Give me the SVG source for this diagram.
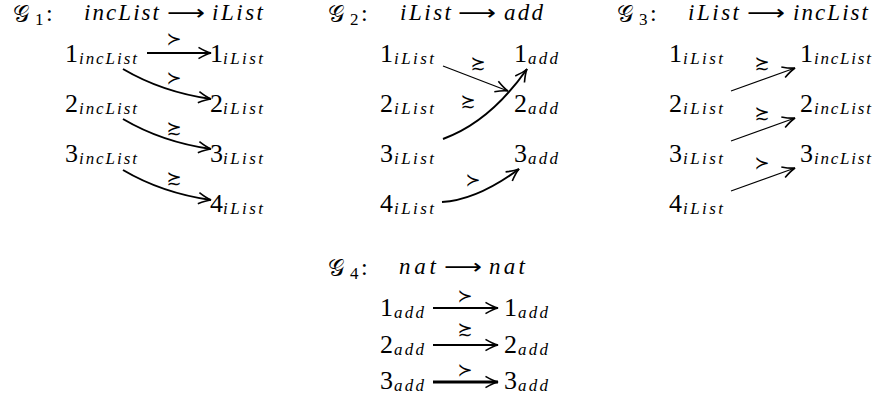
<svg xmlns="http://www.w3.org/2000/svg" width="876" height="401" viewBox="0 0 876 401">
<style>
.t{font-family:"Liberation Serif",serif;font-style:italic;font-size:23px;fill:#000}
.a{font-family:"DejaVu Sans",sans-serif;font-size:21px;fill:#000}
.g{font-family:"DejaVu Sans",sans-serif;font-size:23px;fill:#000}
.gs{font-family:"Liberation Serif",serif;font-size:17px}
.gc{font-family:"Liberation Serif",serif;font-size:24px}
.n{font-family:"Liberation Serif",serif;font-size:26px;fill:#000}
.s{font-family:"Liberation Serif",serif;font-style:italic;font-size:17px}
.r{font-family:"DejaVu Sans",sans-serif;font-size:18px;text-anchor:middle;fill:#000}
.e{fill:none;stroke:#000;stroke-width:2}
.e1{fill:none;stroke:#000;stroke-width:1.2}
.e3{fill:none;stroke:#000;stroke-width:3}
</style>
<defs>
<marker id="h" markerUnits="userSpaceOnUse" markerWidth="20" markerHeight="20" viewBox="-12 -8 14 16" refX="0" refY="0" orient="auto">
<path d="M-10,-4.5 Q-4,-1 0,0 Q-4,1 -10,4.5" fill="none" stroke="#000" stroke-width="1.3"/>
</marker>
</defs>

<!-- Titles -->
<g id="title1">
<text class="g" x="13" y="22">𝒢<tspan class="gs" x="35" y="25">1</tspan><tspan class="gc" x="46" y="21">:</tspan></text>
<text class="t" x="84" y="20" textLength="75" lengthAdjust="spacing">incList</text>
<text class="a" x="167" y="20" textLength="38" lengthAdjust="spacingAndGlyphs">⟶</text>
<text class="t" x="212" y="20" textLength="51" lengthAdjust="spacing">iList</text>
</g>
<g id="title2">
<text class="g" x="328" y="22">𝒢<tspan class="gs" x="350" y="25">2</tspan><tspan class="gc" x="361" y="21">:</tspan></text>
<text class="t" x="400" y="20" textLength="51" lengthAdjust="spacing">iList</text>
<text class="a" x="458" y="20" textLength="38" lengthAdjust="spacingAndGlyphs">⟶</text>
<text class="t" x="504" y="20" textLength="39" lengthAdjust="spacing">add</text>
</g>
<g id="title3">
<text class="g" x="617" y="22">𝒢<tspan class="gs" x="639" y="25">3</tspan><tspan class="gc" x="650" y="21">:</tspan></text>
<text class="t" x="688" y="20" textLength="51" lengthAdjust="spacing">iList</text>
<text class="a" x="747" y="20" textLength="38" lengthAdjust="spacingAndGlyphs">⟶</text>
<text class="t" x="793" y="20" textLength="75" lengthAdjust="spacing">incList</text>
</g>
<g id="title4">
<text class="g" x="328" y="276">𝒢<tspan class="gs" x="350" y="279">4</tspan><tspan class="gc" x="361" y="275">:</tspan></text>
<text class="t" x="399" y="274" textLength="37" lengthAdjust="spacing">nat</text>
<text class="a" x="444" y="274" textLength="38" lengthAdjust="spacingAndGlyphs">⟶</text>
<text class="t" x="489" y="274" textLength="36" lengthAdjust="spacing">nat</text>
</g>

<!-- G1 nodes -->
<g id="g1-l1"><text class="n" x="65" y="62">1<tspan class="s" x="79" y="64" textLength="58">incList</tspan></text></g>
<g id="g1-l2"><text class="n" x="65" y="112">2<tspan class="s" x="79" y="114" textLength="58">incList</tspan></text></g>
<g id="g1-l3"><text class="n" x="65" y="162">3<tspan class="s" x="79" y="164" textLength="58">incList</tspan></text></g>
<g id="g1-r1"><text class="n" x="210" y="62">1<tspan class="s" x="223" y="64" textLength="40">iList</tspan></text></g>
<g id="g1-r2"><text class="n" x="210" y="112">2<tspan class="s" x="223" y="114" textLength="40">iList</tspan></text></g>
<g id="g1-r3"><text class="n" x="210" y="162">3<tspan class="s" x="223" y="164" textLength="40">iList</tspan></text></g>
<g id="g1-r4"><text class="n" x="210" y="212">4<tspan class="s" x="223" y="214" textLength="40">iList</tspan></text></g>

<!-- G2 nodes -->
<g id="g2-l1"><text class="n" x="380" y="62">1<tspan class="s" x="394" y="64" textLength="40">iList</tspan></text></g>
<g id="g2-l2"><text class="n" x="380" y="112">2<tspan class="s" x="394" y="114" textLength="40">iList</tspan></text></g>
<g id="g2-l3"><text class="n" x="380" y="162">3<tspan class="s" x="394" y="164" textLength="40">iList</tspan></text></g>
<g id="g2-l4"><text class="n" x="380" y="212">4<tspan class="s" x="394" y="214" textLength="40">iList</tspan></text></g>
<g id="g2-r1"><text class="n" x="514" y="62">1<tspan class="s" x="528" y="64" textLength="30">add</tspan></text></g>
<g id="g2-r2"><text class="n" x="514" y="112">2<tspan class="s" x="528" y="114" textLength="30">add</tspan></text></g>
<g id="g2-r3"><text class="n" x="514" y="162">3<tspan class="s" x="528" y="164" textLength="30">add</tspan></text></g>

<!-- G3 nodes -->
<g id="g3-l1"><text class="n" x="669" y="62">1<tspan class="s" x="683" y="64" textLength="40">iList</tspan></text></g>
<g id="g3-l2"><text class="n" x="669" y="112">2<tspan class="s" x="683" y="114" textLength="40">iList</tspan></text></g>
<g id="g3-l3"><text class="n" x="669" y="162">3<tspan class="s" x="683" y="164" textLength="40">iList</tspan></text></g>
<g id="g3-l4"><text class="n" x="669" y="212">4<tspan class="s" x="683" y="214" textLength="40">iList</tspan></text></g>
<g id="g3-r1"><text class="n" x="800" y="62">1<tspan class="s" x="814" y="64" textLength="57">incList</tspan></text></g>
<g id="g3-r2"><text class="n" x="800" y="112">2<tspan class="s" x="814" y="114" textLength="57">incList</tspan></text></g>
<g id="g3-r3"><text class="n" x="800" y="162">3<tspan class="s" x="814" y="164" textLength="57">incList</tspan></text></g>

<!-- G4 nodes -->
<g id="g4-l1"><text class="n" x="380" y="316">1<tspan class="s" x="394" y="318" textLength="30">add</tspan></text></g>
<g id="g4-l2"><text class="n" x="380" y="353">2<tspan class="s" x="394" y="355" textLength="30">add</tspan></text></g>
<g id="g4-l3"><text class="n" x="380" y="389">3<tspan class="s" x="394" y="391" textLength="30">add</tspan></text></g>
<g id="g4-r1"><text class="n" x="504" y="316">1<tspan class="s" x="518" y="318" textLength="30">add</tspan></text></g>
<g id="g4-r2"><text class="n" x="504" y="353">2<tspan class="s" x="518" y="355" textLength="30">add</tspan></text></g>
<g id="g4-r3"><text class="n" x="504" y="389">3<tspan class="s" x="518" y="391" textLength="30">add</tspan></text></g>

<!-- Connectors -->
<g id="connectors">
<path class="e" d="M147,53 L211,53" marker-end="url(#h)"/>
<path class="e" d="M123,69 Q162,92 211,99" marker-end="url(#h)"/>
<path class="e" d="M123,119 Q162,142 211,149" marker-end="url(#h)"/>
<path class="e" d="M123,170 Q162,193 211,200" marker-end="url(#h)"/>

<path class="e1" d="M443,66 L508,91" marker-end="url(#h)"/>
<path class="e" d="M443,139 Q490,122 527,69" marker-end="url(#h)"/>
<path class="e" d="M442,202 Q477,200 519,169" marker-end="url(#h)"/>

<path class="e1" d="M731,91 L795,68" marker-end="url(#h)"/>
<path class="e1" d="M731,141 L795,118" marker-end="url(#h)"/>
<path class="e1" d="M731,191 L795,168" marker-end="url(#h)"/>

<path class="e" d="M433,308 L498,308" marker-end="url(#h)"/>
<path class="e" d="M433,345 L498,345" marker-end="url(#h)"/>
<path class="e3" d="M433,382 L498,382" marker-end="url(#h)"/>

<!-- labels -->
<text class="r" x="174" y="45">≻</text>
<text class="r" x="174" y="84">≻</text>
<text class="r" x="174" y="134">≿</text>
<text class="r" x="174" y="184">≿</text>

<text class="r" x="478" y="69">≿</text>
<text class="r" x="468" y="107">≿</text>
<text class="r" x="473" y="186">≻</text>

<text class="r" x="762" y="69">≿</text>
<text class="r" x="762" y="119">≿</text>
<text class="r" x="762" y="169">≻</text>

<text class="r" x="465" y="302">≻</text>
<text class="r" x="465" y="335">≿</text>
<text class="r" x="465" y="376">≻</text>
</g>
</svg>
